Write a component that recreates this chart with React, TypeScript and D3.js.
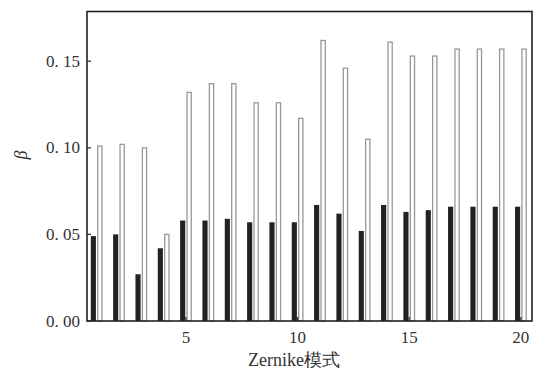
import React from "react";
import * as d3 from "d3";

const modes = [1, 2, 3, 4, 5, 6, 7, 8, 9, 10, 11, 12, 13, 14, 15, 16, 17, 18, 19, 20];
const blackValues = [0.049, 0.050, 0.027, 0.042, 0.058, 0.058, 0.059, 0.057, 0.057, 0.057,
  0.067, 0.062, 0.052, 0.067, 0.063, 0.064, 0.066, 0.066, 0.066, 0.066];
const whiteValues = [0.101, 0.102, 0.100, 0.050, 0.132, 0.137, 0.137, 0.126, 0.126, 0.117,
  0.162, 0.146, 0.105, 0.161, 0.153, 0.153, 0.157, 0.157, 0.157, 0.157];
const xTicks = [5, 10, 15, 20];
const yTicks = [0, 0.05, 0.10, 0.15];

const width = 534, height = 374;
const left = 87, right = 532, top = 11.5, bottom = 321;
const font = "Liberation Serif";

export default function App() {
  const x = d3.scaleLinear().domain([0.57, 20.5]).range([left, right]);
  const y = d3.scaleLinear().domain([0, 0.1787]).range([bottom, top]);
  const fmt = d3.format(".2f");

  return (
    <svg width={width} height={height} style={{ position: "absolute", left: 0, top: 0 }}>
      {/* black bars, left of each tick */}
      {modes.map((m, i) => (
        <rect key={"b" + m} x={x(m - 0.26)} width={x(0.23) - x(0)}
          y={y(blackValues[i])} height={bottom - y(blackValues[i])} fill="#222" />
      ))}
      {/* white bars, right of each tick */}
      {modes.map((m, i) => (
        <rect key={"w" + m} x={x(m + 0.05)} width={x(0.19) - x(0)}
          y={y(whiteValues[i])} height={bottom - y(whiteValues[i])}
          fill="#fff" stroke="#999" strokeWidth={1.3} />
      ))}

      {/* y ticks */}
      {yTicks.map(t => (
        <g key={"y" + t}>
          <line x1={left} x2={left + 4} y1={y(t)} y2={y(t)} stroke="#333" strokeWidth={1.3} />
          <text x={left - 7} y={y(t) + 5.5} textAnchor="end" fontFamily={font}
            fontSize={17} fill="#333" style={{ whiteSpace: "pre" }}>
            {fmt(t).replace(".", ". ")}
          </text>
        </g>
      ))}

      {/* x ticks */}
      {xTicks.map(t => (
        <g key={"x" + t}>
          <line x1={x(t)} x2={x(t)} y1={bottom} y2={bottom - 4} stroke="#333" strokeWidth={1.3} />
          <text x={x(t)} y={bottom + 22} textAnchor="middle" fontFamily={font}
            fontSize={17} fill="#333">{String(t)}</text>
        </g>
      ))}

      {/* frame */}
      <rect x={left} y={top} width={right - left} height={bottom - top}
        fill="none" stroke="#222" strokeWidth={1.6} />

      {/* axis titles */}
      <text x={294} y={366} textAnchor="middle" fontFamily={font} fontSize={18} fill="#333">
        Zernike模式
      </text>
      <text transform="translate(27,155) rotate(-90)" textAnchor="middle" fontFamily={font}
        fontStyle="italic" fontSize={18} fill="#333">β</text>
    </svg>
  );
}
